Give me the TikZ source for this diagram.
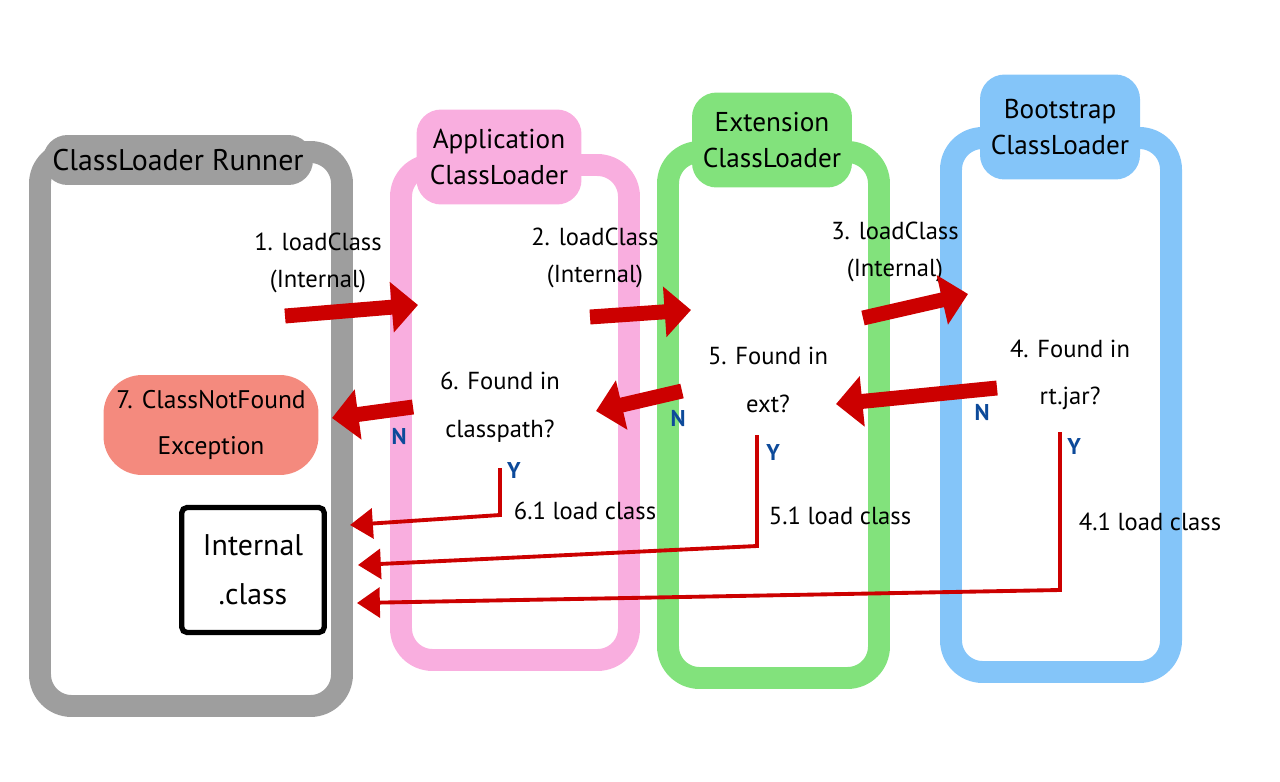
\documentclass[tikz,border=0pt]{standalone}
\usepackage{fontspec}
\setmainfont{PT Sans}
\usetikzlibrary{arrows.meta}
\definecolor{grayc}{HTML}{9E9E9E}
\definecolor{pinkc}{HTML}{F9AEDF}
\definecolor{greenc}{HTML}{82E27C}
\definecolor{bluec}{HTML}{84C5F9}
\definecolor{redc}{HTML}{CC0000}
\definecolor{salmonc}{HTML}{F48A7E}
\definecolor{ync}{HTML}{0D4A9A}
\begin{document}
\begin{tikzpicture}[x=0.02cm,y=-0.02cm,
 box/.style={line width=12.5pt, rounded corners=18pt},
 header/.style={rounded corners=14pt, align=center, font=\fontsize{15.5}{20}\selectfont, inner sep=0pt},
 bigarrow/.style={redc, line width=8.5pt, -{Triangle[length=15pt,width=28pt]}},
 thinarrow/.style={redc, line width=2.2pt, -{Triangle[length=13pt,width=17pt]}},
 lbl/.style={font=\fontsize{14}{21}\selectfont, align=center, inner sep=1pt},
 qlbl/.style={font=\fontsize{14}{27}\selectfont, align=center, inner sep=1pt},
 yn/.style={text=ync, font=\bfseries\fontsize{13}{14}\selectfont, inner sep=0pt}]
\useasboundingbox (0,0) rectangle (1280,781);

% containers
\draw[box, grayc] (40,152) rectangle (342,706);
\draw[box, pinkc] (401,165) rectangle (629,660);
\draw[box, greenc] (668,152) rectangle (879,678);
\draw[box, bluec] (951,138) rectangle (1171,672);

% headers
\node[header, fill=grayc, minimum width=5.4cm, minimum height=1cm, font=\fontsize{17}{20}\selectfont] (hRun) at (178,160) {ClassLoader Runner};
\node[header, fill=pinkc, minimum width=3.3cm, minimum height=1.9cm] (hApp) at (499,157) {Application\\ClassLoader};
\node[header, fill=greenc, minimum width=3.2cm, minimum height=1.9cm] (hExt) at (772,140) {Extension\\ClassLoader};
\node[header, fill=bluec, minimum width=3.2cm, minimum height=2.1cm] (hBoot) at (1060,127) {Bootstrap\\ClassLoader};

% call labels
\node[lbl] (l1) at (318,263) {1. loadClass\\(Internal)};
\node[lbl] (l2) at (595,258) {2. loadClass\\(Internal)};
\node[lbl] (l3) at (895,252) {3. loadClass\\(Internal)};

% questions
\node[qlbl] (q6) at (500,407) {6. Found in\\classpath?};
\node[qlbl] (q5) at (768,380) {5. Found in\\ext?};
\node[qlbl] (q4) at (1070,375) {4. Found in\\rt.jar?};

% Y / N
\node[yn] (n6) at (399,436) {N};
\node[yn] (n5) at (678,418) {N};
\node[yn] (n4) at (982,412) {N};
\node[yn] (y6) at (514,470) {Y};
\node[yn] (y5) at (773,452) {Y};
\node[yn] (y4) at (1074,446) {Y};

% exception and internal class
\node[fill=salmonc, rounded corners=22pt, minimum width=4.3cm, minimum height=2cm, align=center, inner sep=0pt,
      font=\fontsize{14.5}{26}\selectfont] (exc) at (211,425) {7. ClassNotFound\\Exception};
\node[draw, line width=3pt, rounded corners=3pt, minimum width=2.85cm, minimum height=2.5cm, align=center,
      font=\fontsize{17}{28}\selectfont] (int) at (253,570) {Internal\\.class};

% load class labels
\node[lbl] (ll6) at (585,511) {6.1 load class};
\node[lbl] (ll5) at (840,516) {5.1 load class};
\node[lbl] (ll4) at (1150,522) {4.1 load class};

% thick arrows
\coordinate (a1s) at (285,316); \coordinate (a1e) at (418,305);
\coordinate (a2s) at (590,317); \coordinate (a2e) at (691,310);
\coordinate (a3s) at (863,318); \coordinate (a3e) at (968,294);
\coordinate (a4s) at (997,388); \coordinate (a4e) at (836,404);
\coordinate (a5s) at (682,391); \coordinate (a5e) at (596,411);
\coordinate (a6s) at (413,407); \coordinate (a6e) at (332,418);
\draw[bigarrow] (a1s) -- (a1e);
\draw[bigarrow] (a2s) -- (a2e);
\draw[bigarrow] (a3s) -- (a3e);
\draw[bigarrow] (a4s) -- (a4e);
\draw[bigarrow] (a5s) -- (a5e);
\draw[bigarrow] (a6s) -- (a6e);

% thin return arrows
\coordinate (r6s) at (500,468); \coordinate (r6c) at (500,515); \coordinate (r6e) at (350,525);
\coordinate (r5s) at (757,435); \coordinate (r5c) at (757,546); \coordinate (r5e) at (358,565);
\coordinate (r4s) at (1060,432); \coordinate (r4c) at (1060,590); \coordinate (r4e) at (357,603);
\draw[thinarrow] (r6s) -- (r6c) -- (r6e);
\draw[thinarrow] (r5s) -- (r5c) -- (r5e);
\draw[thinarrow] (r4s) -- (r4c) -- (r4e);
\end{tikzpicture}
\end{document}
